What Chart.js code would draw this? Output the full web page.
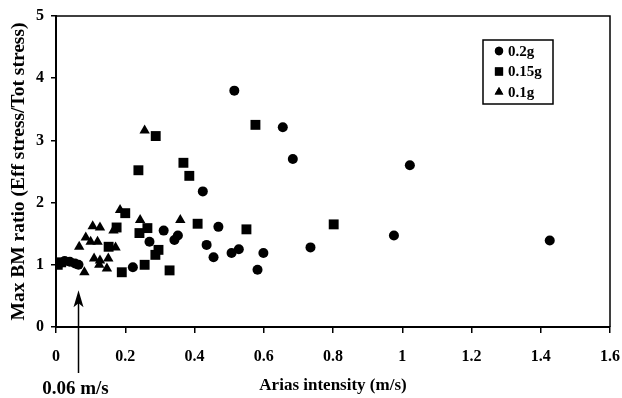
<!DOCTYPE html>
<html>
<head>
<meta charset="utf-8">
<script src="https://cdn.jsdelivr.net/npm/chart.js@4.4.0/dist/chart.umd.min.js"></script>
<style>
html,body{margin:0;padding:0;background:#fff;}
#wrap{width:622px;height:398px;}
</style>
</head>
<body>
<div id="wrap"><canvas id="c" width="622" height="398"></canvas></div>
<script>
// ---- data ----
const seriesLabels = ['0.2g', '0.15g', '0.1g'];
const circlesX = [0.01, 0.025, 0.04, 0.055, 0.065, 0.222, 0.27, 0.311, 0.342, 0.352, 0.424, 0.435, 0.455, 0.469, 0.507, 0.515, 0.528, 0.582, 0.599, 0.655, 0.684, 0.735, 0.976, 1.022, 1.426];
const circlesY = [1.02, 1.06, 1.05, 1.02, 1.0, 0.96, 1.37, 1.55, 1.40, 1.47, 2.18, 1.32, 1.12, 1.61, 1.19, 3.80, 1.25, 0.92, 1.19, 3.21, 2.70, 1.28, 1.47, 2.60, 1.39];
const squaresX = [0.005, 0.015, 0.152, 0.175, 0.19, 0.2, 0.238, 0.241, 0.256, 0.264, 0.287, 0.288, 0.296, 0.328, 0.368, 0.385, 0.409, 0.55, 0.576, 0.802];
const squaresY = [1.0, 1.04, 1.29, 1.60, 0.88, 1.83, 2.52, 1.51, 1.00, 1.59, 1.16, 3.07, 1.24, 0.91, 2.64, 2.43, 1.66, 1.57, 3.25, 1.65];
const trianglesX = [0.067, 0.082, 0.086, 0.100, 0.106, 0.110, 0.120, 0.125, 0.127, 0.127, 0.147, 0.151, 0.166, 0.172, 0.185, 0.243, 0.256, 0.359];
const trianglesY = [1.29, 0.88, 1.44, 1.37, 1.62, 1.10, 1.37, 1.00, 1.60, 1.07, 0.94, 1.10, 1.55, 1.28, 1.88, 1.72, 3.16, 1.72];
const xTickLabels = ['0', '0.2', '0.4', '0.6', '0.8', '1', '1.2', '1.4', '1.6'];
const yTickLabels = ['0', '1', '2', '3', '4', '5'];
const xTitle = 'Arias intensity (m/s)';
const yTitle = 'Max BM ratio (Eff stress/Tot stress)';
const arrowX = 0.065;
const arrowTipY = 0.59;
const arrowLabel = '0.06 m/s';

function pts(xs, ys) { return xs.map((x, i) => ({x: x, y: ys[i]})); }

const FONT = 'Liberation Serif';
const styles = ['circle', 'rect', 'triangle'];
const radii = [5, 7, 6];

const legendBox = {
  id: 'legendBox',
  afterDraw(chart) {
    const ctx = chart.ctx;
    const ca = chart.chartArea;
    const bx = ca.right - 127, by = ca.top + 24, bw = 70, bh = 64;
    ctx.save();
    ctx.strokeStyle = '#000';
    ctx.lineWidth = 1.5;
    ctx.strokeRect(bx, by, bw, bh);
    ctx.fillStyle = '#000';
    ctx.font = 'bold 15px "' + FONT + '"';
    ctx.textBaseline = 'middle';
    ctx.textAlign = 'left';
    const lr = [4.2, 5.8, 5];
    seriesLabels.forEach((lab, i) => {
      const cy = by + 11 + i * 20.5;
      Chart.helpers.drawPoint(ctx, {pointStyle: styles[i], radius: lr[i], rotation: 0, borderWidth: 0}, bx + 16, cy);
      ctx.fillStyle = '#000';
      ctx.fill();
      ctx.fillText(lab, bx + 25, cy + 1);
    });
    ctx.restore();
  }
};

const frameAndArrow = {
  id: 'frameAndArrow',
  afterDraw(chart) {
    const ctx = chart.ctx;
    const ca = chart.chartArea;
    ctx.save();
    ctx.strokeStyle = '#000';
    ctx.lineWidth = 1.5;
    ctx.beginPath();
    ctx.moveTo(ca.left, ca.top);
    ctx.lineTo(ca.right, ca.top);
    ctx.lineTo(ca.right, ca.bottom);
    ctx.stroke();
    // arrow
    const ax = chart.scales.x.getPixelForValue(arrowX);
    const ay = chart.scales.y.getPixelForValue(arrowTipY);
    ctx.lineWidth = 1.5;
    ctx.beginPath();
    ctx.moveTo(ax, ay + 6);
    ctx.lineTo(ax, ca.bottom + 46);
    ctx.stroke();
    ctx.beginPath();
    ctx.moveTo(ax, ay);
    ctx.lineTo(ax + 5, ay + 17);
    ctx.lineTo(ax, ay + 13);
    ctx.lineTo(ax - 5, ay + 17);
    ctx.closePath();
    ctx.fillStyle = '#000';
    ctx.fill();
    ctx.font = 'bold 19px "' + FONT + '"';
    ctx.textAlign = 'center';
    ctx.textBaseline = 'middle';
    ctx.fillText(arrowLabel, ax - 3, ca.bottom + 62);
    ctx.restore();
  }
};

new Chart(document.getElementById('c'), {
  type: 'scatter',
  data: {
    datasets: [
      {label: seriesLabels[0], data: pts(circlesX, circlesY), pointStyle: 'circle', pointRadius: radii[0], backgroundColor: '#000', borderColor: '#000', borderWidth: 0},
      {label: seriesLabels[1], data: pts(squaresX, squaresY), pointStyle: 'rect', pointRadius: radii[1], backgroundColor: '#000', borderColor: '#000', borderWidth: 0},
      {label: seriesLabels[2], data: pts(trianglesX, trianglesY), pointStyle: 'triangle', pointRadius: radii[2], backgroundColor: '#000', borderColor: '#000', borderWidth: 0}
    ]
  },
  options: {
    responsive: false,
    animation: false,
    devicePixelRatio: 1,
    layout: {padding: {top: 16, right: 12, left: 0, bottom: 0}},
    plugins: {legend: {display: false}, tooltip: {enabled: false}},
    scales: {
      x: {
        type: 'linear', min: 0, max: 1.6,
        afterFit(s) { s.height = 71; s.paddingLeft = 0; s.paddingRight = 0; },
        border: {display: true, color: '#000', width: 2},
        grid: {drawOnChartArea: false, drawTicks: true, tickLength: 6, color: '#000', lineWidth: 1.5},
        ticks: {stepSize: 0.2, color: '#000', padding: 14, font: {family: FONT, size: 16, weight: 'bold'},
          callback: (v, i) => xTickLabels[i]},
        title: {display: true, text: xTitle, color: '#000', font: {family: FONT, size: 17, weight: 'bold'}, padding: {top: 0, bottom: 2}}
      },
      y: {
        type: 'linear', min: 0, max: 5,
        afterFit(s) { s.width = 56; s.paddingTop = 0; s.paddingBottom = 0; },
        border: {display: true, color: '#000', width: 2},
        grid: {drawOnChartArea: false, drawTicks: true, tickLength: 5, color: '#000', lineWidth: 1.5},
        ticks: {stepSize: 1, color: '#000', padding: 7, font: {family: FONT, size: 16, weight: 'bold'},
          callback: (v, i) => yTickLabels[i]},
        title: {display: true, text: yTitle, color: '#000', font: {family: FONT, size: 19.5, weight: 'bold'}, padding: {top: 7, bottom: 0}}
      }
    }
  },
  plugins: [legendBox, frameAndArrow]
});
</script>
</body>
</html>
